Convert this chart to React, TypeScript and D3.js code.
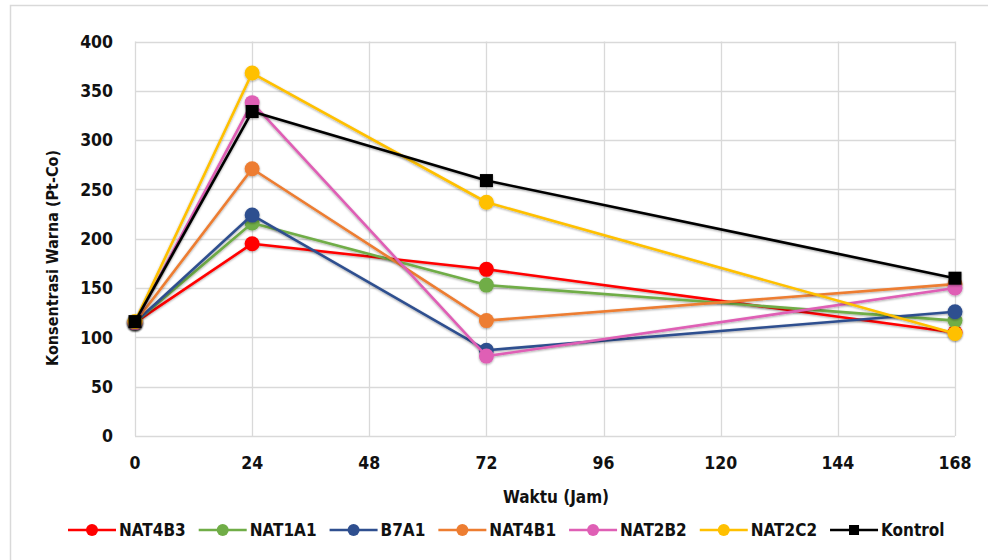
import React, { useEffect, useRef } from "react";
import * as d3 from "d3";

const hours = [0, 24, 72, 168];
const xTicks = [0, 24, 48, 72, 96, 120, 144, 168];
const yTicks = [0, 50, 100, 150, 200, 250, 300, 350, 400];

const seriesNames = ["NAT4B3", "NAT1A1", "B7A1", "NAT4B1", "NAT2B2", "NAT2C2", "Kontrol"];
const NAT4B3 = [115, 195, 169, 105];
const NAT1A1 = [115, 216, 153, 117];
const B7A1 = [115, 224, 87, 126];
const NAT4B1 = [115, 271, 117, 154];
const NAT2B2 = [115, 338, 81, 150];
const NAT2C2 = [116, 368, 237, 104];
const Kontrol = [116, 329, 259, 160];
const seriesValues = [NAT4B3, NAT1A1, B7A1, NAT4B1, NAT2B2, NAT2C2, Kontrol];
const seriesColors = ["#ff0000", "#70ad47", "#2f4f8f", "#ed7d31", "#df5fb5", "#ffc000", "#000000"];

const W = 988;
const H = 560;
const FONT = "'DejaVu Sans Condensed', 'DejaVu Sans', sans-serif";

export default function App() {
  const ref = useRef<SVGSVGElement>(null);

  useEffect(() => {
    const svg = d3.select(ref.current);
    svg.selectAll("*").remove();

    const defs = svg.append("defs");
    const f = defs.append("filter").attr("id", "sh").attr("x", "-50%").attr("y", "-50%").attr("width", "200%").attr("height", "200%");
    f.append("feDropShadow").attr("dx", 0).attr("dy", 1).attr("stdDeviation", 1.3).attr("flood-color", "#000").attr("flood-opacity", 0.35);

    svg.append("rect").attr("x", 0).attr("y", 0).attr("width", W).attr("height", H).attr("fill", "#fff");
    svg.append("rect").attr("x", 10.5).attr("y", 5.5).attr("width", 1000).attr("height", 600)
      .attr("fill", "none").attr("stroke", "#d9d9d9").attr("stroke-width", 1.5);

    const x = d3.scaleLinear().domain([0, 168]).range([135, 955]);
    const y = d3.scaleLinear().domain([0, 400]).range([436, 41.5]);

    const g = svg.append("g");
    g.selectAll("line.h").data(yTicks).join("line")
      .attr("x1", x(0)).attr("x2", x(168))
      .attr("y1", (d) => Math.round(y(d)) + 0.5).attr("y2", (d) => Math.round(y(d)) + 0.5)
      .attr("stroke", "#d9d9d9").attr("stroke-width", 1.3);
    g.selectAll("line.v").data(xTicks).join("line")
      .attr("y1", y(0)).attr("y2", y(400))
      .attr("x1", (d) => Math.round(x(d)) + 0.5).attr("x2", (d) => Math.round(x(d)) + 0.5)
      .attr("stroke", "#d9d9d9").attr("stroke-width", 1.3);

    g.selectAll("text.yt").data(yTicks).join("text")
      .attr("x", 113).attr("y", (d) => y(d)).attr("dy", "0.36em")
      .attr("text-anchor", "end").attr("font-family", FONT).attr("font-weight", "bold")
      .attr("font-size", 17.5).attr("fill", "#111").text((d) => d);
    g.selectAll("text.xt").data(xTicks).join("text")
      .attr("x", (d) => x(d)).attr("y", 463).attr("dy", "0.36em")
      .attr("text-anchor", "middle").attr("font-family", FONT).attr("font-weight", "bold")
      .attr("font-size", 17.5).attr("fill", "#111").text((d) => d);

    svg.append("text").attr("transform", `translate(52,258) rotate(-90)`)
      .attr("text-anchor", "middle").attr("dy", "0.36em").attr("font-family", FONT)
      .attr("font-weight", "bold").attr("font-size", 16).attr("fill", "#111")
      .text("Konsentrasi Warna (Pt-Co)");
    svg.append("text").attr("x", 556).attr("y", 497).attr("dy", "0.36em")
      .attr("text-anchor", "middle").attr("font-family", FONT)
      .attr("font-weight", "bold").attr("font-size", 17).attr("fill", "#111")
      .text("Waktu (Jam)");

    const line = d3.line<number>().x((_, i) => x(hours[i])).y((d) => y(d));
    seriesNames.forEach((name, si) => {
      const sg = svg.append("g").attr("filter", "url(#sh)");
      const vals = seriesValues[si];
      const col = seriesColors[si];
      sg.append("path").attr("d", line(vals)).attr("fill", "none").attr("stroke", col).attr("stroke-width", 2.6)
        .attr("stroke-linejoin", "round");
      if (name === "Kontrol") {
        sg.selectAll("rect").data(vals).join("rect")
          .attr("x", (_, i) => x(hours[i]) - 6.5).attr("y", (d) => y(d) - 6.5)
          .attr("width", 13).attr("height", 13).attr("fill", col);
      } else {
        sg.selectAll("circle").data(vals).join("circle")
          .attr("cx", (_, i) => x(hours[i])).attr("cy", (d) => y(d)).attr("r", 7.5).attr("fill", col);
      }
    });

    const lg = svg.append("g");
    let cx = 68;
    const ly = 530;
    seriesNames.forEach((name, si) => {
      const col = seriesColors[si];
      lg.append("line").attr("x1", cx).attr("x2", cx + 48).attr("y1", ly).attr("y2", ly)
        .attr("stroke", col).attr("stroke-width", 2.6);
      if (name === "Kontrol") {
        lg.append("rect").attr("x", cx + 24 - 5).attr("y", ly - 5).attr("width", 10).attr("height", 10).attr("fill", col);
      } else {
        lg.append("circle").attr("cx", cx + 24).attr("cy", ly).attr("r", 6).attr("fill", col);
      }
      const t = lg.append("text").attr("x", cx + 51).attr("y", ly).attr("dy", "0.36em")
        .attr("font-family", FONT).attr("font-weight", "bold").attr("font-size", 17).attr("fill", "#111").text(name);
      const w = (t.node() as SVGTextElement).getComputedTextLength();
      cx += 51 + w + 13;
    });
  }, []);

  return (
    <svg ref={ref} width={W} height={H} style={{ position: "absolute", left: 0, top: 0 }} />
  );
}
